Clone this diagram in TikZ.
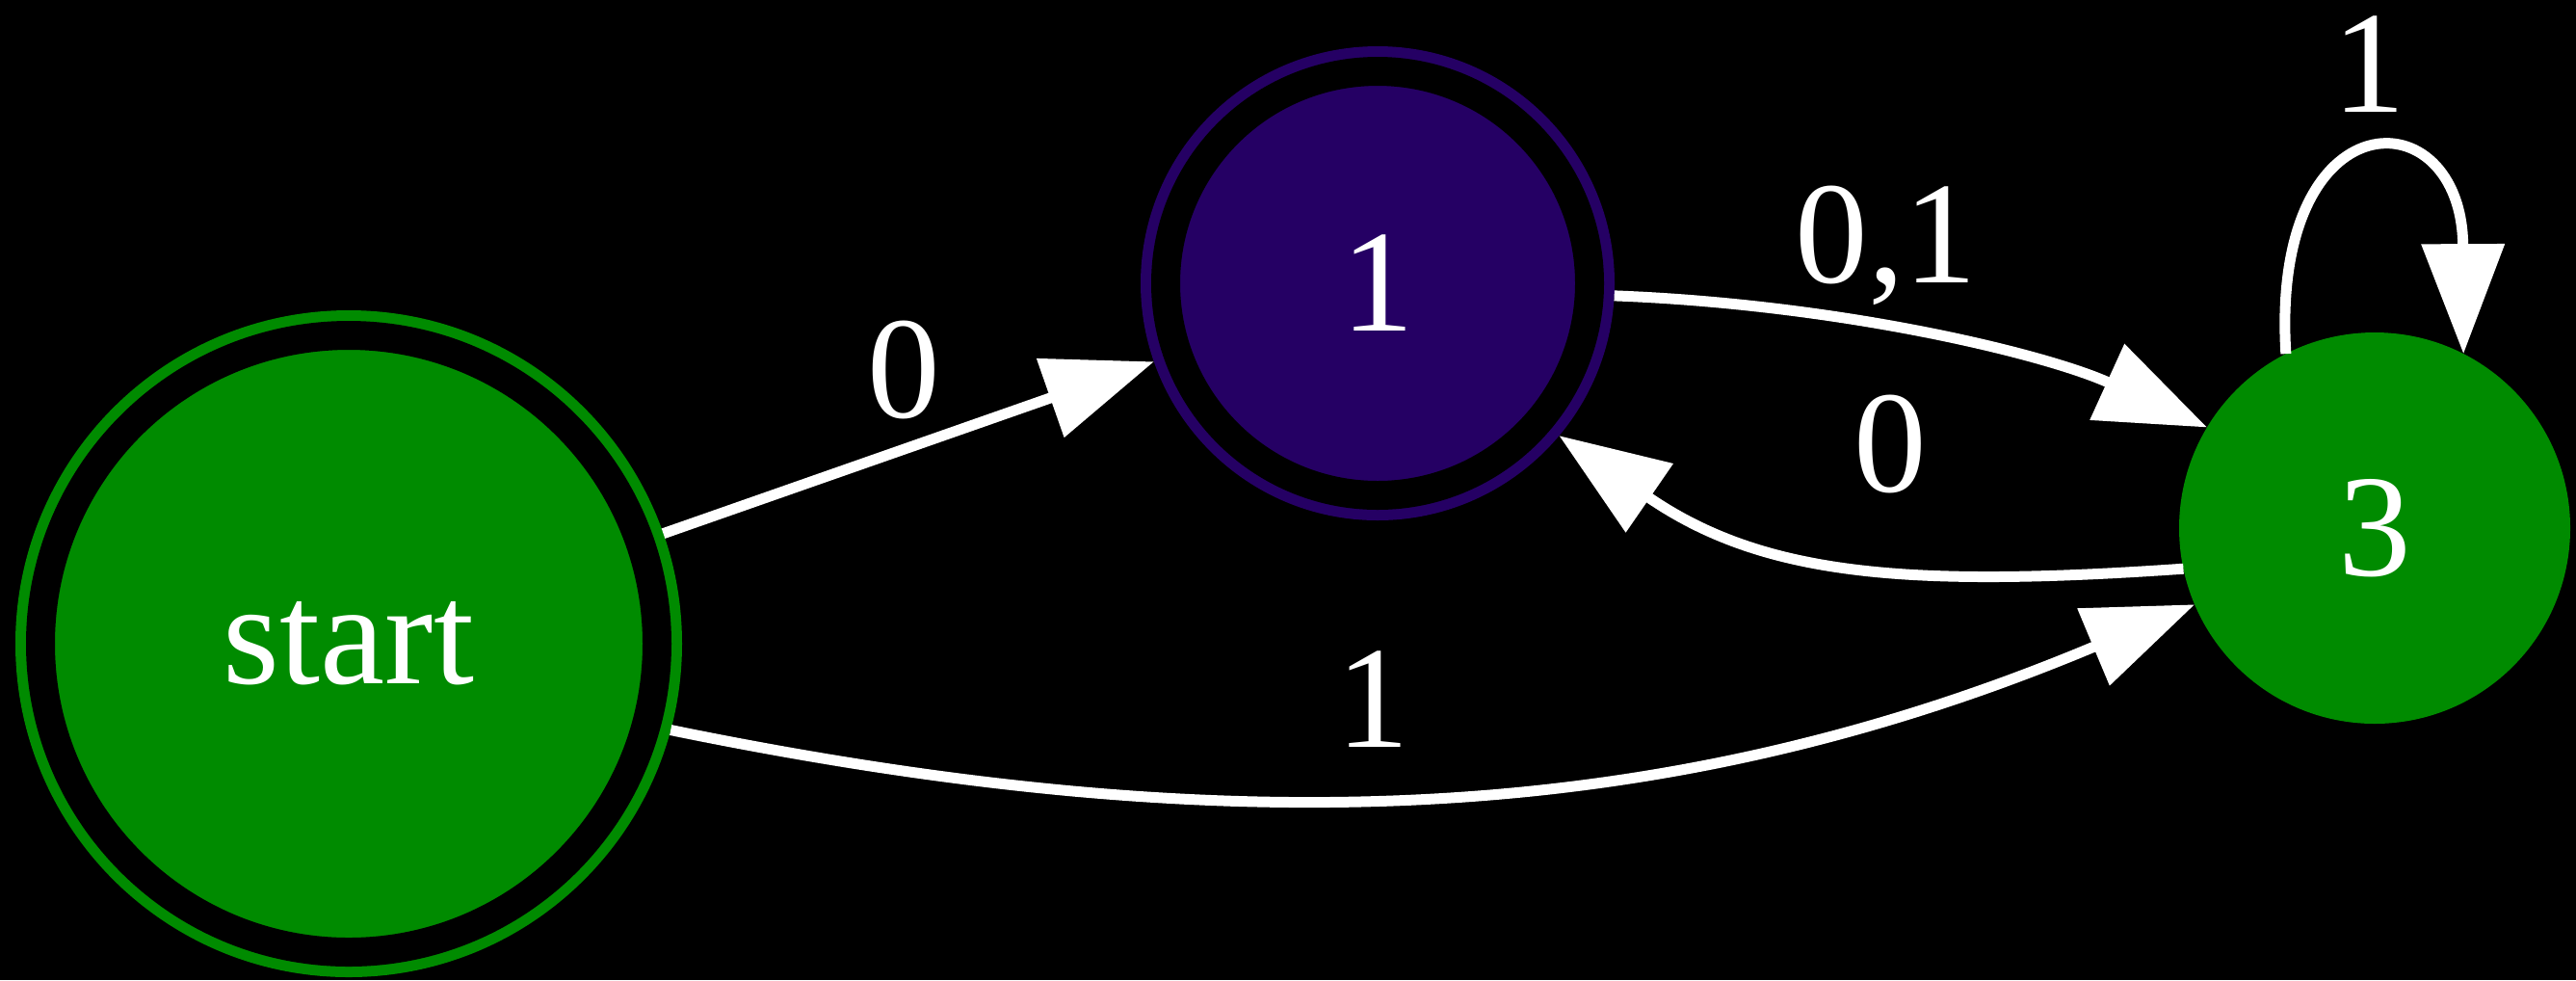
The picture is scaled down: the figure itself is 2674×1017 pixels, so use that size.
\documentclass[tikz,border=0pt]{standalone}
\usepackage{fontspec}
\setmainfont{Liberation Serif}
\usetikzlibrary{arrows.meta}
\definecolor{stgreen}{HTML}{008B00}
\definecolor{stpurple}{HTML}{250064}

\begin{document}
\begin{tikzpicture}[
  x=0.1mm, y=-0.1mm,
  vertex/.style={circle, inner sep=0pt, outer sep=0pt, text=white,
                 font=\fontsize{43}{50}\selectfont},
  final/.style={vertex, draw=#1, fill=#1, line width=1.1mm, double=black,
                double distance=3mm, outer sep=2.6mm},
  edge/.style={white, line width=1.1mm, -{Triangle[length=11.4mm, width=8.4mm]}},
  elabel/.style={text=white, inner sep=0pt, anchor=base,
                 font=\fontsize{43}{50}\selectfont},
]

\fill[black, use as bounding box] (0,0) rectangle (2674,1017);

\node[final=stgreen, minimum size=64mm] (start) at (362,668) {start};
\node[final=stpurple, minimum size=44mm] (n1) at (1430,294) {1};
\node[vertex, fill=stgreen, minimum size=40.6mm] (n3) at (2465,548) {3};

\draw[edge] (start) -- (n1);
\draw[edge] (n1.-3) .. controls (1914,316) and (2125,368) .. (n3.149.5);
\draw[edge] (n3.192) .. controls (1980,610) and (1830,598) .. (n1.-40);
\draw[edge] (start.-15) .. controls (1280,877) and (1728,858) .. (n3.203);
\draw[edge] (n3.117) .. controls (2356,98) and (2556,98) .. (n3.63.5);

\node[elabel] (l01) at (938,433) {0};
\node[elabel] (l13) at (1958,293) {0,1};
\node[elabel] (l31) at (1962,510) {0};
\node[elabel] (l03) at (1425,775) {1};
\node[elabel] (l33) at (2459,116) {1};

\end{tikzpicture}
\end{document}
